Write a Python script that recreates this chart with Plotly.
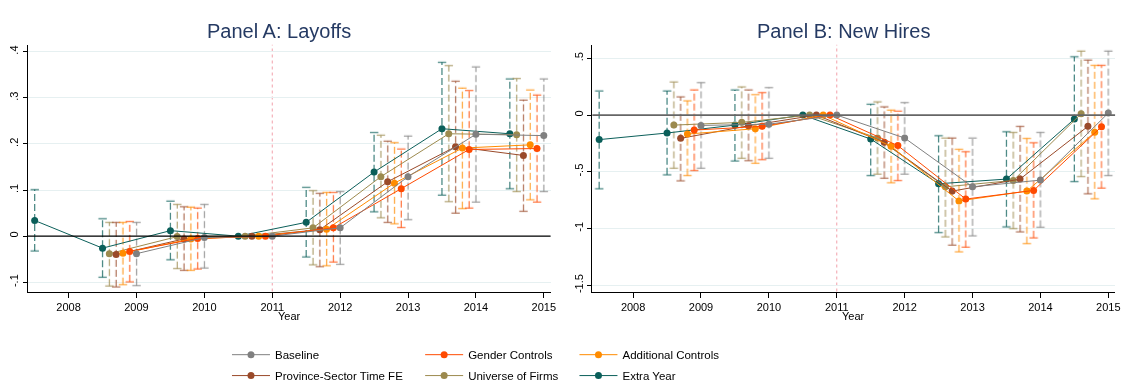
import plotly.graph_objects as go
import numpy as np

# ---------------- data ----------------
years = [2009, 2010, 2011, 2012, 2013, 2014, 2015]
years_extra = [2008, 2009, 2010, 2011, 2012, 2013, 2014, 2015]
x_ticks = [2008, 2009, 2010, 2011, 2012, 2013, 2014, 2015]
x_tick_labels = ["2008", "2009", "2010", "2011", "2012", "2013", "2014", "2015"]

series_names = ["Baseline", "Gender Controls", "Additional Controls",
                "Province-Sector Time FE", "Universe of Firms", "Extra Year"]

# Panel A: Layoffs
a_baseline = [-0.038, -0.003, 0, 0.018, 0.129, 0.221, 0.218]
a_baseline_lo = [-0.107, -0.069, None, -0.061, 0.036, 0.074, 0.097]
a_baseline_hi = [0.030, 0.069, None, 0.097, 0.217, 0.367, 0.341]
a_gender = [-0.033, -0.005, 0, 0.018, 0.103, 0.188, 0.190]
a_gender_lo = [-0.099, -0.071, None, -0.056, 0.019, 0.061, 0.074]
a_gender_hi = [0.032, 0.061, None, 0.095, 0.189, 0.316, 0.306]
a_additional = [-0.037, -0.006, 0, 0.015, 0.115, 0.191, 0.198]
a_additional_lo = [-0.105, -0.074, None, -0.064, 0.027, 0.060, 0.079]
a_additional_hi = [0.030, 0.063, None, 0.095, 0.203, 0.321, 0.317]
a_province = [-0.040, -0.006, 0, 0.014, 0.118, 0.194, 0.175]
a_province_lo = [-0.110, -0.074, None, -0.066, 0.030, 0.050, 0.054]
a_province_hi = [0.030, 0.064, None, 0.093, 0.206, 0.336, 0.295]
a_universe = [-0.038, -0.001, 0, 0.018, 0.129, 0.222, 0.220]
a_universe_lo = [-0.108, -0.070, None, -0.062, 0.040, 0.075, 0.097]
a_universe_hi = [0.030, 0.069, None, 0.099, 0.219, 0.370, 0.342]
a_extra = [0.034, -0.026, 0.012, 0, 0.030, 0.139, 0.233, 0.222]
a_extra_lo = [-0.032, -0.089, -0.051, None, -0.045, 0.053, 0.089, 0.103]
a_extra_hi = [0.101, 0.038, 0.076, None, 0.106, 0.225, 0.377, 0.341]

# Panel B: New Hires
b_baseline = [-0.091, -0.080, 0, -0.202, -0.632, -0.573, 0.018]
b_baseline_lo = [-0.468, -0.380, None, -0.520, -1.064, -0.988, -0.532]
b_baseline_hi = [0.287, 0.243, None, 0.111, -0.202, -0.152, 0.564]
b_gender = [-0.132, -0.099, 0, -0.269, -0.740, -0.664, -0.102]
b_gender_lo = [-0.488, -0.392, None, -0.576, -1.164, -1.082, -0.643]
b_gender_hi = [0.222, 0.199, None, 0.035, -0.322, -0.243, 0.439]
b_additional = [-0.167, -0.120, 0, -0.275, -0.757, -0.670, -0.152]
b_additional_lo = [-0.532, -0.424, None, -0.596, -1.205, -1.132, -0.737]
b_additional_hi = [0.126, 0.181, None, 0.044, -0.301, -0.205, 0.439]
b_province = [-0.205, -0.094, 0, -0.240, -0.670, -0.564, -0.099]
b_province_lo = [-0.579, -0.401, None, -0.556, -1.146, -1.029, -0.693]
b_province_hi = [0.161, 0.222, None, 0.073, -0.202, -0.099, 0.485]
b_universe = [-0.088, -0.064, 0, -0.202, -0.632, -0.576, 0.012]
b_universe_lo = [-0.468, -0.380, None, -0.520, -1.073, -1.000, -0.541]
b_universe_hi = [0.292, 0.249, None, 0.117, -0.202, -0.152, 0.564]
b_extra = [-0.216, -0.158, -0.088, 0, -0.211, -0.605, -0.564, -0.035]
b_extra_lo = [-0.649, -0.526, -0.404, None, -0.532, -1.035, -0.985, -0.585]
b_extra_hi = [0.213, 0.213, 0.222, None, 0.096, -0.181, -0.146, 0.515]

a_y_ticks = [-0.1, 0, 0.1, 0.2, 0.3, 0.4]
a_y_labels = ["-.1", "0", ".1", ".2", ".3", ".4"]
b_y_ticks = [-1.5, -1, -0.5, 0, 0.5]
b_y_labels = ["-1.5", "-1", "-.5", "0", ".5"]

# ---------------- styles ----------------
colors = {
    "Baseline": "#808080",
    "Gender Controls": "#ff4a00",
    "Additional Controls": "#ff8c00",
    "Province-Sector Time FE": "#9a4a2a",
    "Universe of Firms": "#9c8a4e",
    "Extra Year": "#0b5f5a",
}
offsets = {
    "Baseline": 0.0, "Gender Controls": -0.1, "Additional Controls": -0.2,
    "Province-Sector Time FE": -0.3, "Universe of Firms": -0.4, "Extra Year": -0.5,
}
panel_a = {
    "Baseline": (years, a_baseline, a_baseline_lo, a_baseline_hi),
    "Gender Controls": (years, a_gender, a_gender_lo, a_gender_hi),
    "Additional Controls": (years, a_additional, a_additional_lo, a_additional_hi),
    "Province-Sector Time FE": (years, a_province, a_province_lo, a_province_hi),
    "Universe of Firms": (years, a_universe, a_universe_lo, a_universe_hi),
    "Extra Year": (years_extra, a_extra, a_extra_lo, a_extra_hi),
}
panel_b = {
    "Baseline": (years, b_baseline, b_baseline_lo, b_baseline_hi),
    "Gender Controls": (years, b_gender, b_gender_lo, b_gender_hi),
    "Additional Controls": (years, b_additional, b_additional_lo, b_additional_hi),
    "Province-Sector Time FE": (years, b_province, b_province_lo, b_province_hi),
    "Universe of Firms": (years, b_universe, b_universe_lo, b_universe_hi),
    "Extra Year": (years_extra, b_extra, b_extra_lo, b_extra_hi),
}

FONT = "Liberation Sans, Arial, Helvetica, sans-serif"
W, H = 1138, 392

fig = go.Figure()

draw_order = ["Extra Year", "Universe of Firms", "Province-Sector Time FE",
              "Additional Controls", "Gender Controls", "Baseline"]

legend_ids = {name: ("legend" if i == 0 else f"legend{i+1}") for i, name in enumerate(series_names)}

for panel, xa, ya, show in [(panel_a, "x", "y", True), (panel_b, "x2", "y2", False)]:
    # confidence intervals
    for name in draw_order:
        yrs, est, lo, hi = panel[name]
        xs = np.array(yrs, dtype=float) + offsets[name]
        ex, ey, cx, cy = [], [], [], []
        for xv, l, h in zip(xs, lo, hi):
            if l is None or h is None:
                continue
            ex += [xv, xv, None]
            ey += [l, h, None]
            cx += [xv, xv]
            cy += [l, h]
        fig.add_trace(go.Scatter(
            x=ex, y=ey, mode="lines", xaxis=xa, yaxis=ya, opacity=0.72,
            line=dict(color=colors[name], width=1.3, dash="7px,3px"),
            showlegend=False, hoverinfo="skip"))
        fig.add_trace(go.Scatter(
            x=cx, y=cy, mode="markers", xaxis=xa, yaxis=ya, opacity=0.72,
            marker=dict(symbol="line-ew", size=6,
                        line=dict(color=colors[name], width=1.3)),
            showlegend=False, hoverinfo="skip"))
    # point estimates
    for name in draw_order:
        yrs, est, lo, hi = panel[name]
        xs = np.array(yrs, dtype=float) + offsets[name]
        fig.add_trace(go.Scatter(
            x=xs, y=est, mode="lines+markers", xaxis=xa, yaxis=ya, name=name,
            line=dict(color=colors[name], width=1),
            marker=dict(color=colors[name], size=7),
            showlegend=show, legend=legend_ids[name]))

xa_common = dict(range=[2007.4, 2015.1], tickvals=x_ticks, ticktext=x_tick_labels,
                 ticks="outside", ticklen=5, tickcolor="black", showline=True,
                 linecolor="black", linewidth=1, showgrid=False, zeroline=False,
                 tickfont=dict(family=FONT, size=11, color="black"))
ya_common = dict(ticks="outside", ticklen=4, tickcolor="black", showline=True,
                 linecolor="black", linewidth=1, showgrid=True, gridcolor="#e6f0f1",
                 gridwidth=1, zeroline=False, tickangle=-90,
                 tickfont=dict(family=FONT, size=11, color="black"))

y_dom = [1 - 293 / H, 1 - 45 / H]
fig.update_layout(
    width=W, height=H, margin=dict(l=0, r=0, t=0, b=0),
    paper_bgcolor="white", plot_bgcolor="white",
    font=dict(family=FONT, size=11, color="black"),
    xaxis=dict(domain=[28 / W, 553 / W], anchor="y", **xa_common),
    yaxis=dict(domain=y_dom, anchor="x", range=[-0.12, 0.415],
               tickvals=a_y_ticks, ticktext=a_y_labels, **ya_common),
    xaxis2=dict(domain=[595 / W, 1120 / W], anchor="y2", **xa_common),
    yaxis2=dict(domain=y_dom, anchor="x2", range=[-1.555, 0.62],
                tickvals=b_y_ticks, ticktext=b_y_labels, **ya_common),
)

# zero lines and reference year line
fig.add_shape(type="line", xref="x domain", yref="y", x0=0, x1=1, y0=0, y1=0,
              line=dict(color="black", width=1.2))
fig.add_shape(type="line", xref="x2 domain", yref="y2", x0=0, x1=1, y0=0, y1=0,
              line=dict(color="#666666", width=1.6))
for xr, yr in [("x", "y domain"), ("x2", "y2 domain")]:
    fig.add_shape(type="line", xref=xr, yref=yr, x0=2011, x1=2011, y0=0, y1=1,
                  line=dict(color="#f2a0aa", width=1, dash="dot"), layer="below")

# titles and axis titles
for txt, xc in [("Panel A: Layoffs", 280), ("Panel B: New Hires", 847)]:
    fig.add_annotation(text=txt, x=xc / W, y=1 - 31 / H, xref="paper", yref="paper",
                       showarrow=False, xanchor="center", yanchor="middle",
                       font=dict(family=FONT, size=20, color="#253a63"))
for xc in [290.5, 857.5]:
    fig.add_annotation(text="Year", x=xc / W, y=1 - 318 / H, xref="paper", yref="paper",
                       showarrow=False, xanchor="center", yanchor="middle",
                       font=dict(family=FONT, size=11, color="black"))

# legends: 3 columns x 2 rows
col_x = [228, 422, 577]
row_y = [356.5, 377.5]
for i, name in enumerate(series_names):
    c, r = i % 3, i // 3
    fig.update_layout({legend_ids[name]: dict(
        x=col_x[c] / W, y=1 - row_y[r] / H, xanchor="left", yanchor="middle",
        xref="paper", yref="paper", bgcolor="rgba(0,0,0,0)", borderwidth=0,
        itemwidth=38, font=dict(family=FONT, size=11.5, color="black"))})

fig.write_html("out.html")
